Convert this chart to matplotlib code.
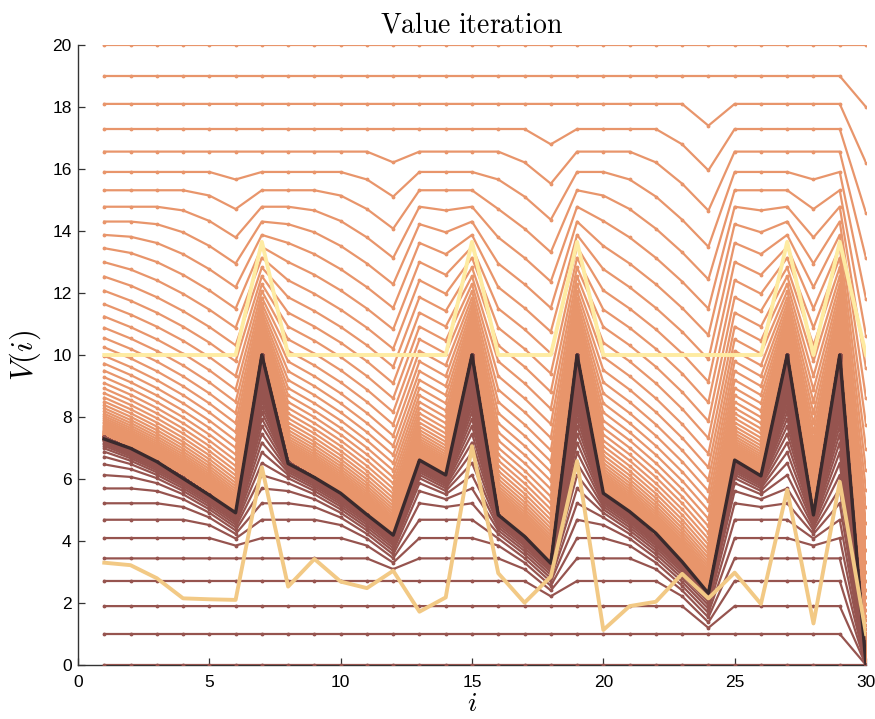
import numpy as np
import matplotlib
matplotlib.use("Agg")
import matplotlib.pyplot as plt

# ---------------- data ----------------
states = list(range(1, 31))
x_ticks = [0, 5, 10, 15, 20, 25, 30]
y_ticks = [0, 2, 4, 6, 8, 10, 12, 14, 16, 18, 20]

# grid-world value-iteration setup (5 rows x 6 columns, row-major numbering)
n_cols = 6
walls = [7, 15, 19, 27, 29]
goal = 30
gamma = 0.9
p_move = 0.78          # probability that the intended move happens
slip_to = {24: 25}     # where a failed move ends (default: stay in place)
step_cost = 1.0
v_init_high = 20.0
v_init_low = 0.0
n_iter = 90

# converged value function (thick dark line)
v_star = [7.29, 6.99, 6.56, 6.02, 5.48, 4.91, 10.0, 6.50, 6.05, 5.54,
          4.85, 4.19, 6.61, 6.13, 10.0, 4.84, 4.15, 3.28, 10.0, 5.54,
          4.95, 4.25, 3.33, 2.31, 6.61, 6.10, 10.0, 4.84, 10.0, 0.0]

# light yellow reference line
v_upper_ref = [10.0, 10.0, 10.0, 10.0, 10.0, 10.0, 13.65, 10.0, 10.0, 10.0,
               10.0, 10.0, 10.0, 10.0, 13.65, 10.0, 10.0, 10.0, 13.65, 10.0,
               10.0, 10.0, 10.0, 10.0, 10.0, 10.0, 13.65, 10.0, 13.65, 10.0]

# yellow reference line
v_lower_ref = [3.30, 3.22, 2.80, 2.15, 2.12, 2.10, 6.38, 2.53, 3.42, 2.69,
               2.48, 3.04, 1.72, 2.18, 7.06, 2.96, 2.01, 2.85, 6.58, 1.13,
               1.90, 2.04, 2.94, 2.15, 2.98, 1.97, 5.65, 1.34, 5.91, 1.00]

# ---------------- value iteration ----------------
n_states = len(states)
moves = {"right": 1, "down": n_cols, "left": -1, "up": -n_cols}


def next_state(s, a):
    if s in walls or s == goal:
        return s
    t = s + moves[a]
    if t < 1 or t > n_states:
        return s
    col = (s - 1) % n_cols
    if a == "left" and col == 0:
        return s
    if a == "right" and col == n_cols - 1:
        return s
    if t in walls:
        return s
    return t


def slip_state(s):
    if s in walls or s == goal:
        return s
    return slip_to.get(s, s)


def bellman(V):
    out = np.empty(n_states)
    for s in states:
        cost = 0.0 if s == goal else step_cost
        s_fail = slip_state(s)
        best = np.inf
        for a in moves:
            s_ok = next_state(s, a)
            q = cost + gamma * (p_move * V[s_ok - 1] + (1 - p_move) * V[s_fail - 1])
            best = min(best, q)
        out[s - 1] = best
    return out


def run(v0):
    V = np.full(n_states, v0)
    hist = [V.copy()]
    for _ in range(n_iter):
        V = bellman(V)
        hist.append(V.copy())
    return hist


hist_high = run(v_init_high)
hist_low = run(v_init_low)

# ---------------- plotting ----------------
c_high = "#E8956B"
c_low = "#96544F"
c_star = "#3A2A2D"
c_lref = "#F2C985"
c_uref = "#FEEBA2"

plt.rcParams["mathtext.fontset"] = "cm"
fig = plt.figure(figsize=(8.75, 7.19), dpi=100)
ax = fig.add_axes([78 / 875, 1 - 665 / 719, (866 - 78) / 875, (665 - 45) / 719])

for V in hist_high:
    ax.plot(states, V, color=c_high, lw=1.6, marker=".", ms=3.5, zorder=2)
for V in hist_low:
    ax.plot(states, V, color=c_low, lw=1.6, marker=".", ms=3.5, zorder=3)
ax.plot(states, v_star, color=c_star, lw=2.4, zorder=5)
ax.plot(states, v_upper_ref, color=c_uref, lw=2.8, zorder=6)
ax.plot(states, v_lower_ref, color=c_lref, lw=2.8, zorder=6)

ax.set_xlim(0, 30)
ax.set_ylim(0, 20)
ax.set_xticks(x_ticks)
ax.set_yticks(y_ticks)
ax.tick_params(direction="in", length=5, width=0.9, color="#333333",
               labelsize=12.5)
ax.tick_params(axis="x", pad=7.5)
ax.tick_params(axis="y", pad=4.5)
for lab in ax.get_xticklabels() + ax.get_yticklabels():
    lab.set_fontfamily("Liberation Sans")
for side in ("top", "right"):
    ax.spines[side].set_visible(False)
for side in ("left", "bottom"):
    ax.spines[side].set_color("#333333")
    ax.spines[side].set_linewidth(1.0)

ax.set_title(r"$\mathrm{Value\ iteration}$", fontsize=20, pad=9)
fig.text(472 / 875, 2 / 719, r"$i$", fontsize=20, ha="center", va="bottom")
ax.set_ylabel(r"$V(i)$", fontsize=22, labelpad=7)

fig.savefig("out.png", dpi=100)
